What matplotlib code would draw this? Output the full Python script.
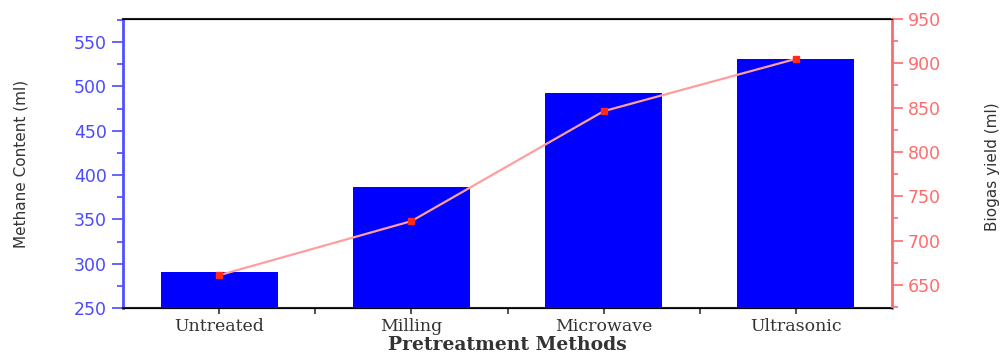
import numpy as np
import matplotlib
matplotlib.use("Agg")
from matplotlib import pyplot as plt
from matplotlib.ticker import MultipleLocator, FixedLocator

# 前処理方法ごとのメタン量とバイオガス収量
methods = ["Untreated", "Milling", "Microwave", "Ultrasonic"]
methane = [291, 386, 493, 531]
biogas = [661, 722, 846, 905]

blue = "#0000ff"
blue_txt = "#4a4aff"
red = "#ff6b6b"

fig = plt.figure(figsize=(10.02, 3.55), dpi=100)
ax = fig.add_axes([0.1228, 0.1324, 0.7674, 0.8141])

x = np.arange(len(methods))
ax.bar(x, methane, width=0.61, color=blue, zorder=2)
ax.set_xlim(-0.5, 3.5)
ax.set_ylim(250, 576)

# 左軸（メタン量）
ax.yaxis.set_major_locator(MultipleLocator(50))
ax.yaxis.set_minor_locator(MultipleLocator(25))
ax.tick_params(axis="y", which="major", direction="out", length=8, width=1.2,
               colors=blue_txt, labelsize=12.5)
ax.tick_params(axis="y", which="minor", direction="out", length=4, width=1.2,
               colors=blue_txt)
ax.spines["left"].set_color("#5050ff")
ax.spines["left"].set_linewidth(2)
ax.set_ylabel("Methane Content (ml)", fontsize=11, color="#333333")
ax.yaxis.set_label_coords(-0.123, 0.5)

# x軸
ax.set_xticks(x)
ax.set_xticklabels(methods, family="DejaVu Serif", fontsize=12.5, color="#333333")
ax.xaxis.set_minor_locator(FixedLocator([0.5, 1.5, 2.5]))
ax.tick_params(axis="x", which="both", direction="out", length=4, width=1.2,
               color="#333333", pad=3)
ax.set_xlabel("Pretreatment Methods", family="DejaVu Serif", fontweight="bold",
              fontsize=13.5, color="#333333", labelpad=1)
for s in ["top", "bottom"]:
    ax.spines[s].set_linewidth(1.5)
    ax.spines[s].set_color("#222222")

# 右軸（バイオガス収量）
ax2 = ax.twinx()
ax2.plot(x, biogas, color="#ff9e9e", linewidth=1.6, zorder=3)
ax2.plot(x, biogas, linestyle="none", marker="s", markersize=4.5,
         color="#ff2a1a", zorder=4)
ax2.set_ylim(624, 950)
ax2.yaxis.set_major_locator(FixedLocator(range(650, 951, 50)))
ax2.yaxis.set_minor_locator(MultipleLocator(25))
ax2.tick_params(axis="y", which="major", direction="out", length=8, width=1.2,
                colors=red, labelsize=12.5)
ax2.tick_params(axis="y", which="minor", direction="out", length=4, width=1.2,
                colors=red)
ax2.spines["right"].set_color(red)
ax2.spines["right"].set_linewidth(2)
ax2.spines["left"].set_visible(False)
ax2.set_ylabel("Biogas yield (ml)", fontsize=11, color="#333333")
ax2.yaxis.set_label_coords(1.121, 0.49)

fig.savefig("out.png", dpi=100)
